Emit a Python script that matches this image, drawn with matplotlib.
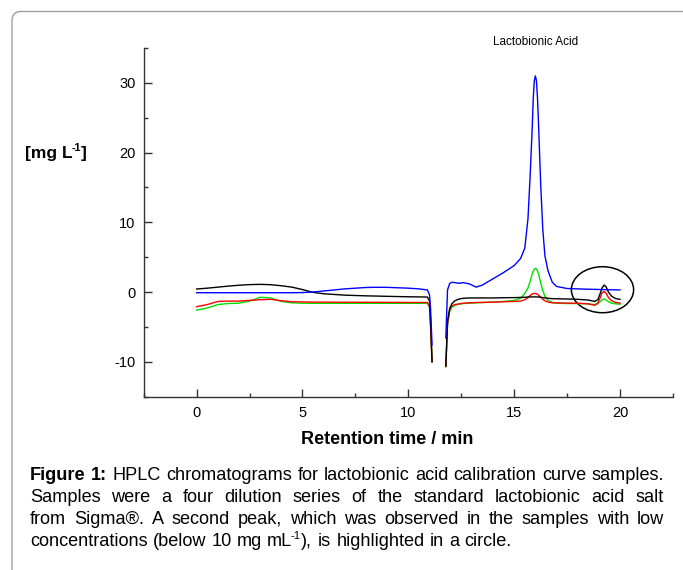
import numpy as np
import matplotlib
matplotlib.use("Agg")
import matplotlib.pyplot as plt
from matplotlib.patches import Ellipse, FancyBboxPatch

plt.rcParams['font.family'] = ['Liberation Sans', 'DejaVu Sans']
plt.rcParams['axes.unicode_minus'] = False

nan = np.nan

# retention time (min); the nan point is the gap between the two injection dips
t_min = [0, 0.5, 1, 1.5, 2, 2.5, 3, 3.5, 4, 4.5,
         5, 5.5, 6, 7, 8, 8.5, 9, 10, 10.5, 10.9,
         11.0, 11.05, 11.12, 11.4, 11.77, 11.85, 11.95, 12.05, 12.2, 12.4,
         12.6, 12.9, 13.2, 13.5, 14.0, 14.5, 15.0, 15.3, 15.5, 15.65,
         15.75, 15.85, 15.9, 15.95, 16.0, 16.05, 16.1, 16.15, 16.25, 16.35,
         16.45, 16.6, 16.8, 17.0, 17.5, 18.0, 18.5, 18.8, 18.95, 19.05,
         19.15, 19.25, 19.35, 19.45, 19.6, 19.8, 20.0]

black_trace = [0.43, 0.55, 0.7, 0.85, 0.97, 1.06, 1.1, 1.05, 0.9, 0.7,
               0.35, -0.05, -0.25, -0.45, -0.55, -0.58, -0.62, -0.68, -0.7, -0.72,
               -1.3, -4.0, -10.0, nan, -10.6, -4.2, -2.4, -1.7, -1.25, -1.0,
               -0.9, -0.85, -0.85, -0.85, -0.85, -0.82, -0.8, -0.78, -0.75, -0.72,
               -0.7, -0.7, -0.7, -0.7, -0.7, -0.7, -0.7, -0.72, -0.75, -0.8,
               -0.85, -0.9, -0.95, -0.97, -1.0, -1.05, -1.15, -1.35, -1.1, -0.3,
               0.6, 1.0, 0.7, 0.0, -0.6, -0.95, -1.05]

blue_trace = [-0.1, -0.1, -0.1, -0.1, -0.1, -0.1, -0.1, -0.1, -0.1, -0.1,
              -0.08, 0.0, 0.15, 0.45, 0.65, 0.68, 0.67, 0.55, 0.45, 0.3,
              -0.4, -2.5, -7.6, nan, -6.6, 0.3, 1.2, 1.4, 1.35, 1.25,
              1.35, 1.15, 0.7, 1.0, 1.9, 2.8, 3.8, 4.8, 6.3, 10.5,
              16.5, 23.5, 27.8, 30.3, 31.0, 30.3, 27.8, 24.0, 15.5, 9.0,
              5.2, 3.0, 1.4, 0.8, 0.5, 0.45, 0.4, 0.38, 0.37, 0.36,
              0.35, 0.35, 0.34, 0.33, 0.32, 0.31, 0.3]

red_trace = [-2.1, -1.8, -1.35, -1.3, -1.3, -1.2, -1.1, -1.05, -1.25, -1.4,
             -1.42, -1.45, -1.45, -1.47, -1.47, -1.48, -1.48, -1.5, -1.5, -1.5,
             -2.0, -5.0, -10.0, nan, -10.7, -4.5, -2.6, -2.0, -1.8, -1.7,
             -1.6, -1.55, -1.5, -1.5, -1.45, -1.4, -1.35, -1.3, -1.1, -0.8,
             -0.5, -0.3, -0.22, -0.2, -0.2, -0.25, -0.32, -0.45, -0.75, -1.05,
             -1.25, -1.45, -1.55, -1.55, -1.6, -1.6, -1.7, -1.9, -1.6, -0.9,
             -0.1, 0.1, -0.2, -0.8, -1.25, -1.5, -1.6]

green_trace = [-2.6, -2.3, -1.8, -1.65, -1.6, -1.3, -0.75, -0.85, -1.35, -1.55,
               -1.6, -1.62, -1.62, -1.62, -1.62, -1.62, -1.62, -1.62, -1.62, -1.62,
               -2.2, -5.0, -10.0, nan, -10.7, -4.8, -2.8, -2.2, -1.9, -1.75,
               -1.65, -1.6, -1.55, -1.5, -1.45, -1.35, -1.2, -0.9, -0.2, 0.6,
               1.5, 2.6, 3.0, 3.3, 3.4, 3.3, 3.0, 2.6, 1.3, 0.2,
               -0.6, -1.2, -1.5, -1.6, -1.65, -1.65, -1.7, -1.8, -1.7, -1.4,
               -1.1, -1.0, -1.15, -1.4, -1.6, -1.7, -1.75]

x_ticks = [0, 5, 10, 15, 20]
y_ticks = [-10, 0, 10, 20, 30]

# words of the caption; "^" brackets a superscript part
caption_lines = [
    [("Figure", "bold"), ("1:", "bold"), ("HPLC", "normal"), ("chromatograms", "normal"),
     ("for", "normal"), ("lactobionic", "normal"), ("acid", "normal"), ("calibration", "normal"),
     ("curve", "normal"), ("samples.", "normal")],
    [(w, "normal") for w in "Samples were a four dilution series of the standard lactobionic acid salt".split()],
    [(w, "normal") for w in "from Sigma®. A second peak, which was observed in the samples with low".split()],
    [(w, "normal") for w in "concentrations (below 10 mg mL^-1^), is highlighted in a circle.".split()],
]

W, H = 683, 570
fig = plt.figure(figsize=(W / 100, H / 100), dpi=100)
renderer = fig.canvas.get_renderer()

# panel frame (rounded corner, runs off the right and bottom edges)
frame = FancyBboxPatch((12, -30), 760, H - 11.5 + 30, boxstyle="round,pad=0,rounding_size=9",
                       transform=None, fill=False, edgecolor="#a0a0a0", lw=1.0)
fig.patches.append(frame)

ax = fig.add_axes([143.7 / W, 1 - 396.6 / H, (673 - 143.7) / W, (396.6 - 48) / H])
ax.plot(t_min, green_trace, color="#00e000", lw=1.0)
ax.plot(t_min, red_trace, color="#ff0000", lw=1.0)
ax.plot(t_min, black_trace, color="black", lw=1.0)
ax.plot(t_min, blue_trace, color="#0000ff", lw=1.0)

ax.add_patch(Ellipse((19.17, 0.33), 2.94, 6.6, fill=False, edgecolor="black", lw=1.1))
ax.text(16.0, 35.9, "Lactobionic Acid", fontsize=8.5, ha="center", va="center", clip_on=False)

ax.set_xlim(-2.5, 22.5)
ax.set_ylim(-15, 35)
ax.set_xticks(x_ticks)
ax.set_yticks(y_ticks)
ax.set_xticks(np.arange(-2.5, 23, 5), minor=True)
ax.set_yticks(np.arange(-15, 36, 10), minor=True)
ax.tick_params(which="both", direction="in", labelsize=10.5, color="#333333")
ax.tick_params(which="major", length=5.5, width=1)
ax.tick_params(which="minor", length=3, width=1)
ax.tick_params(axis="x", pad=7)
ax.tick_params(axis="y", pad=6)
for side in ["top", "right"]:
    ax.spines[side].set_visible(False)
for side in ["left", "bottom"]:
    ax.spines[side].set_linewidth(1.0)
    ax.spines[side].set_color("#333333")

fig.text(386.7 / W, 1 - 440 / H, "Retention time / min", fontsize=13, fontweight="bold",
         ha="center", va="center")


def text_width(s, size, weight):
    tt = fig.text(0, 0, s, fontsize=size, fontweight=weight)
    w = tt.get_window_extent(renderer).width
    tt.remove()
    return w


def word_pieces(word):
    parts = word.split("^")
    return [(p, i % 2 == 1) for i, p in enumerate(parts) if p]


def word_width(word, size, weight):
    return sum(text_width(p, size * 0.62 if sup else size, weight) for p, sup in word_pieces(word))


def draw_word(x, y, word, size, weight):
    # x, y in pixels from the top-left, y is the baseline
    for p, sup in word_pieces(word):
        fs = size * 0.62 if sup else size
        dy = size * 0.55 if sup else 0
        if sup:
            x -= 1.5
        fig.text(x / W, 1 - (y - dy) / H, p, fontsize=fs, fontweight=weight,
                 ha="left", va="baseline")
        x += text_width(p, fs, weight)
    return x


# y axis label with superscript
draw_word(25, 158, "[mg L^-1^]", 12.5, "bold")

# justified caption
left, right = 30, 664
space_ref = text_width("a a", 10, "normal") - text_width("aa", 10, "normal")
natural = sum(word_width(w, 10, wt) for w, wt in caption_lines[0]) + space_ref * (len(caption_lines[0]) - 1)
cap_fs = 10 * (right - left) / natural
space_w = space_ref * cap_fs / 10

baselines = [480, 502, 524, 546]
for i, line in enumerate(caption_lines):
    widths = [word_width(w, cap_fs, wt) for w, wt in line]
    if i < 3:
        gap = (right - left - sum(widths)) / (len(line) - 1)
    else:
        gap = space_w
    x = left
    for (w, wt), wd in zip(line, widths):
        draw_word(x, baselines[i], w, cap_fs, wt)
        x += wd + gap

fig.savefig("out.png", dpi=100)
